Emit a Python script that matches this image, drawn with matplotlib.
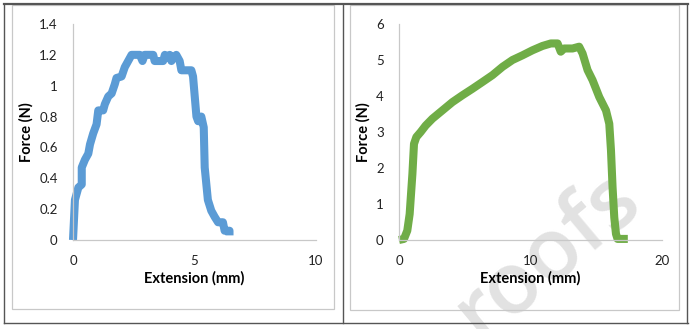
import matplotlib
matplotlib.use("Agg")
import matplotlib.pyplot as plt
from matplotlib.patches import Rectangle
from matplotlib.lines import Line2D

plt.rcParams['font.family'] = ['Lato', 'DejaVu Sans']

# sample 1 (left)
ext_a = [0, 0.08, 0.22, 0.36, 0.36, 0.49, 0.63, 0.70, 0.83, 0.97, 1.04, 1.24, 1.31, 1.45,
         1.59, 1.72, 1.79, 2.0, 2.13, 2.27, 2.41, 2.75, 2.86, 2.95, 3.3, 3.36, 3.71, 3.78,
         3.92, 3.98, 4.05, 4.19, 4.25, 4.39, 4.46, 4.87, 4.94, 5.08, 5.15, 5.21, 5.28, 5.38,
         5.42, 5.55, 5.69, 5.83, 5.97, 6.17, 6.24, 6.44, 6.44]
force_a = [0, 0.26, 0.34, 0.36, 0.47, 0.52, 0.56, 0.62, 0.69, 0.75, 0.84, 0.84, 0.88, 0.93,
           0.95, 1.01, 1.05, 1.06, 1.12, 1.16, 1.2, 1.2, 1.16, 1.2, 1.2, 1.16, 1.16, 1.2,
           1.18, 1.2, 1.16, 1.19, 1.2, 1.16, 1.1, 1.1, 1.06, 0.80, 0.77, 0.77, 0.80, 0.73,
           0.47, 0.26, 0.19, 0.15, 0.115, 0.115, 0.06, 0.06, 0.03]

# sample 2 (right)
ext_b = [0, 0.38, 0.63, 0.81, 1.02, 1.14, 1.32, 1.65, 2.03, 2.54, 3.3, 4.06, 4.82, 5.58,
         6.35, 7.11, 7.87, 8.63, 9.39, 10.15, 10.91, 11.55, 12.06, 12.3, 12.56, 13.2, 13.7,
         13.96, 14.34, 14.72, 15.23, 15.74, 15.99, 16.12, 16.24, 16.37, 16.5, 16.62, 17.4]
force_b = [0, 0.03, 0.26, 0.72, 1.84, 2.67, 2.86, 3.0, 3.18, 3.37, 3.6, 3.83, 4.02, 4.2,
           4.39, 4.58, 4.81, 5.0, 5.13, 5.27, 5.39, 5.46, 5.46, 5.23, 5.32, 5.32, 5.37,
           5.18, 4.72, 4.44, 3.97, 3.6, 3.23, 2.49, 1.47, 0.63, 0.17, 0.03, 0.03]

W, H = 692, 329
fig = plt.figure(figsize=(W / 100, H / 100), dpi=100)


def px_rect(x0, y0, x1, y1):
    return [x0 / W, 1 - y1 / H, (x1 - x0) / W, (y1 - y0) / H]


def frame_line(xs, ys, color, lw):
    fig.add_artist(Line2D([x / W for x in xs], [1 - y / H for y in ys],
                          color=color, lw=lw, transform=fig.transFigure))


# light gray chart borders
for x0, y0, x1, y1 in [(12, 5, 334, 309), (350, 5, 679, 310)]:
    fig.add_artist(Rectangle((x0 / W, 1 - y1 / H), (x1 - x0) / W, (y1 - y0) / H,
                             transform=fig.transFigure, fill=False,
                             edgecolor='#c8c8c8', lw=0.9))

# dark table lines
frame_line([4, 688], [4, 4], '#555555', 1.6)
frame_line([4, 688], [323, 323], '#555555', 1.0)
frame_line([4, 4], [4, 323], '#555555', 1.0)
frame_line([343, 343], [4, 323], '#555555', 1.0)
frame_line([687, 687], [4, 323], '#555555', 1.0)

# watermark
fig.text(548 / W, 1 - 256 / H, 'roofs', fontsize=62, color='#e2e2e2', fontweight='semibold',
         rotation=40, ha='center', va='center', zorder=-1, family=['Open Sans'])

panels = [
    (px_rect(73, 24, 316, 240), ext_a, force_a, '#5B9BD5', (0, 10), [0, 5, 10],
     (0, 1.4), [0, 0.2, 0.4, 0.6, 0.8, 1, 1.2, 1.4], ['0', '0.2', '0.4', '0.6', '0.8', '1', '1.2', '1.4']),
    (px_rect(399, 24, 662, 240), ext_b, force_b, '#70AD47', (0, 20), [0, 10, 20],
     (0, 6), [0, 1, 2, 3, 4, 5, 6], ['0', '1', '2', '3', '4', '5', '6']),
]

for rect, xs, ys, col, xlim, xt, ylim, yt, ytl in panels:
    ax = fig.add_axes(rect)
    ax.patch.set_alpha(0)
    ax.plot(xs, ys, color=col, lw=5.8, solid_capstyle='butt', solid_joinstyle='round',
            clip_on=False)
    ax.set_xlim(*xlim)
    ax.set_ylim(*ylim)
    ax.set_xticks(xt)
    ax.set_yticks(yt)
    ax.set_yticklabels(ytl)
    for s in ['top', 'right']:
        ax.spines[s].set_visible(False)
    for s in ['left', 'bottom']:
        ax.spines[s].set_color('#c8c8c8')
        ax.spines[s].set_linewidth(0.9)
    ax.tick_params(length=0, labelsize=9.5, colors='#222222')
    ax.tick_params(axis='x', pad=11)
    ax.tick_params(axis='y', pad=11)
    ax.set_xlabel('Extension (mm)', fontsize=10.5, fontweight='bold', labelpad=3)
    ax.set_ylabel('Force (N)', fontsize=10.5, fontweight='bold', labelpad=4)

fig.savefig('out.png', dpi=100)
